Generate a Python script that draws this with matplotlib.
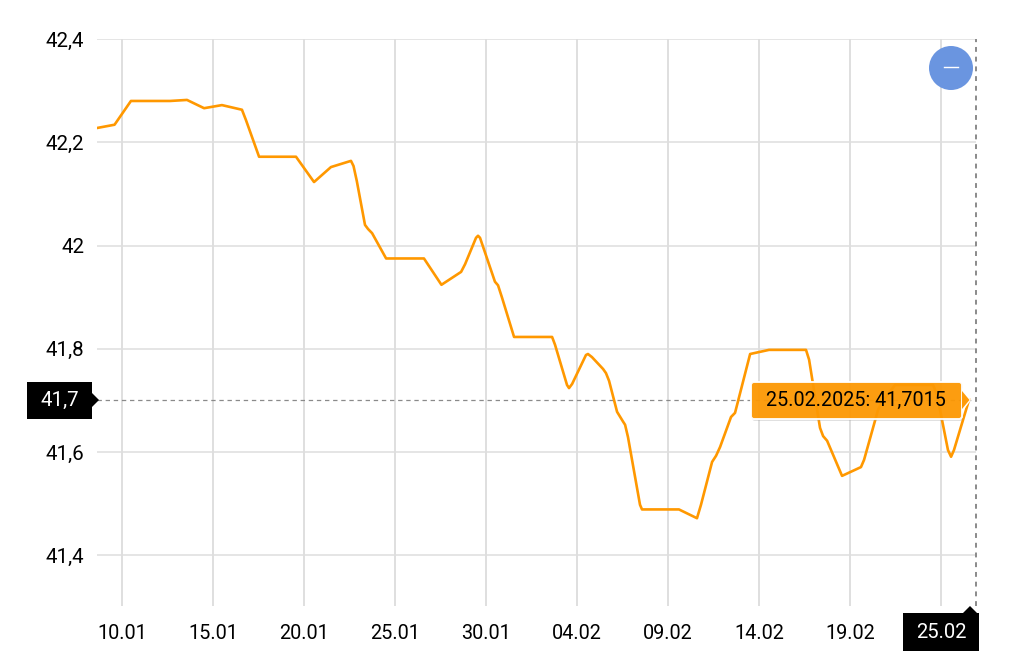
import matplotlib
matplotlib.use("Agg")
import matplotlib.pyplot as plt
from matplotlib.patches import Circle, FancyBboxPatch, Polygon, Rectangle

# day offset from 10.01 and price
days = [-1.32, -0.41, 0.49, 1.48, 2.64, 3.57, 4.51, 5.49, 6.59, 6.81, 7.53, 9.56, 10.55, 11.48,
        12.58, 12.72, 12.90, 13.35, 13.52, 13.74, 14.51, 16.59, 17.55, 18.63, 18.85, 19.45, 19.56, 19.67,
        20.49, 20.66, 20.88, 21.54, 23.63, 23.79, 24.45, 24.56, 24.73, 25.49, 25.60, 25.82, 26.43,
        26.59, 26.76, 27.20, 27.53, 27.64, 27.80, 28.46, 28.57, 30.60, 31.59, 31.81, 32.42, 32.64,
        32.86, 33.46, 33.68, 33.79, 34.51, 35.55, 37.58, 37.75, 38.35, 38.52, 38.74, 39.56, 40.60,
        40.77, 41.54, 41.76, 42.47, 42.58, 44.56, 44.78, 45.38, 45.55, 45.71, 46.54]
prices = [42.228, 42.234, 42.280, 42.280, 42.280, 42.282, 42.266, 42.272, 42.263, 42.243, 42.172, 42.172, 42.123, 42.152,
          42.164, 42.154, 42.125, 42.040, 42.032, 42.024, 41.975, 41.975, 41.924, 41.949, 41.964, 42.015, 42.019, 42.015,
          41.930, 41.923, 41.899, 41.823, 41.823, 41.808, 41.730, 41.724, 41.732, 41.788, 41.790, 41.784, 41.761,
          41.753, 41.738, 41.678, 41.659, 41.653, 41.629, 41.498, 41.489, 41.489, 41.472, 41.498, 41.581, 41.593,
          41.610, 41.668, 41.676, 41.691, 41.790, 41.798, 41.798, 41.779, 41.647, 41.631, 41.622, 41.554, 41.571,
          41.585, 41.682, 41.697, 41.730, 41.730, 41.730, 41.711, 41.604, 41.591, 41.604, 41.7015]

y_ticks = [41.4, 41.6, 41.8, 42.0, 42.2, 42.4]
y_labels = ["41,4", "41,6", "41,8", "42", "42,2", "42,4"]
x_ticks = [0, 5, 10, 15, 20, 25, 30, 35, 40, 45]
x_labels = ["10.01", "15.01", "20.01", "25.01", "30.01", "04.02", "09.02", "14.02", "19.02", ""]

plt.rcParams['font.family'] = ['Roboto', 'DejaVu Sans']

W, H = 1010, 668
fig = plt.figure(figsize=(W / 100, H / 100), dpi=100)
ax = fig.add_axes([97 / W, 1 - 606 / H, (976 - 97) / W, (606 - 39) / H])
ax.set_xlim(-1.374, 46.92)
ax.set_ylim(41.302, 42.4)
ax.set_xticks(x_ticks)
ax.set_xticklabels(x_labels)
ax.set_yticks(y_ticks)
ax.set_yticklabels(y_labels)
ax.tick_params(length=0)
ax.tick_params(axis='x', pad=13, labelsize=14.3)
ax.tick_params(axis='y', pad=9.2, labelsize=14.8)
ax.grid(True, axis='y', color='#dedede', linewidth=1.1)
ax.grid(True, axis='x', color='#d6d6d6', linewidth=1.1)
ax.set_axisbelow(True)
for s in ax.spines.values():
    s.set_visible(False)

ax.axhline(41.7015, color='#8a8a8a', linewidth=0.9, dashes=(3.5, 3), zorder=2)
ax.axvline(46.92, color='#8a8a8a', linewidth=1.4, dashes=(2.5, 2.5), zorder=2, clip_on=False)
ax.plot(days, prices, color='#ff9800', linewidth=1.9, solid_joinstyle='round', zorder=3)

# overlay in pixel coordinates for the tooltip, the badges and the button
ov = fig.add_axes([0, 0, 1, 1], zorder=5)
ov.set_xlim(0, W)
ov.set_ylim(H, 0)
ov.axis('off')
ov.patch.set_alpha(0)

# tooltip
ov.add_patch(FancyBboxPatch((752, 383), 211, 38, boxstyle="round,pad=0,rounding_size=3",
                            fc='#9a9a9a', ec='none', alpha=0.3))
ov.add_patch(Polygon([(962, 388), (971, 400), (962, 412)], fc='white', ec='none'))
ov.add_patch(FancyBboxPatch((751, 382), 211, 37, boxstyle="round,pad=0,rounding_size=3",
                            fc='#ff9800', ec='white', linewidth=1.4, alpha=0.93))
ov.add_patch(Polygon([(962, 391), (969.5, 400), (962, 409)], fc='#ff9c0a', ec='none'))
ov.text(856, 400.5, "25.02.2025: 41,7015", fontsize=14.2, color='black', ha='center', va='center')

# y badge
ov.add_patch(Rectangle((27, 382), 65, 37, fc='black', ec='none'))
ov.add_patch(Polygon([(92, 393), (99, 400), (92, 407)], fc='black', ec='none'))
ov.text(59.5, 400, "41,7", fontsize=14.8, color='white', ha='center', va='center')

# x badge
ov.add_patch(Rectangle((903, 613), 76, 38, fc='black', ec='none'))
ov.add_patch(Polygon([(963, 613), (970, 606), (977, 613)], fc='black', ec='none'))
ov.text(941, 632, "25.02", fontsize=14.6, color='white', ha='center', va='center')

# zoom button
ov.add_patch(Circle((951, 68), 22, fc='#6a95e0', ec='none'))
ov.plot([944, 958], [67, 67], color='white', linewidth=1.0)

fig.savefig("out.png", dpi=100)
